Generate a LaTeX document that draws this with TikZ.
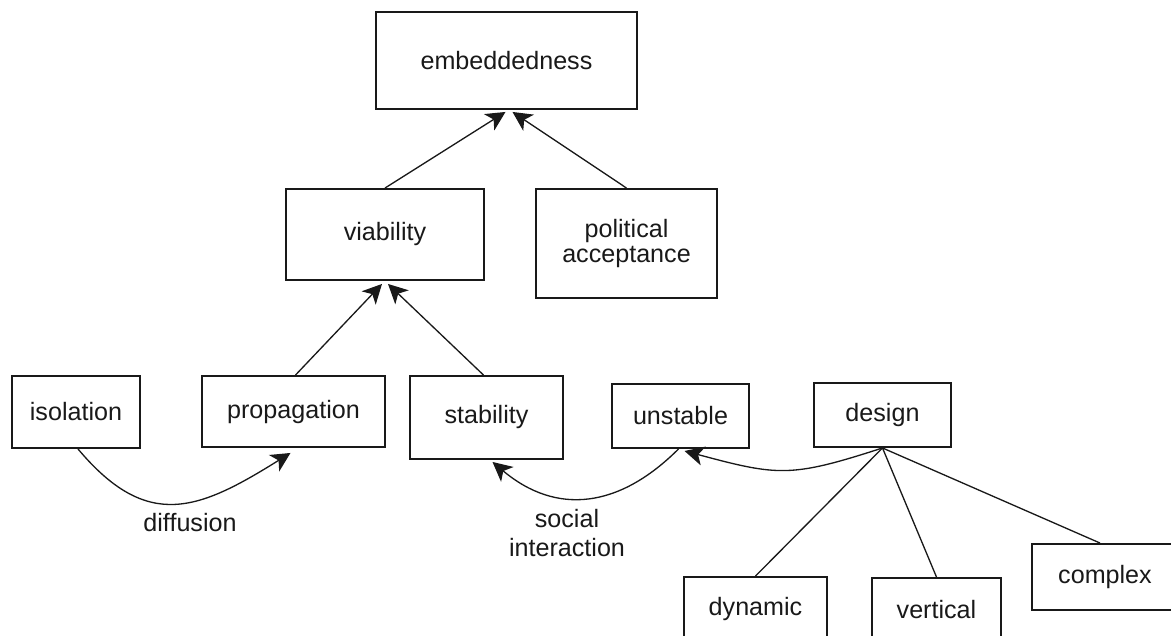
\documentclass[tikz,border=0pt]{standalone}
\usepackage{fontspec}
\setmainfont{Liberation Sans}
\usepackage{tikz}
\usetikzlibrary{
    arrows.meta,
    positioning,
    calc
}
\definecolor{ink}{RGB}{25,25,25}
\tikzset{
  box/.style  = {draw=ink, line width=1.1pt, inner sep=0pt, align=center,
                 text=ink, font=\fontsize{14.3pt}{17pt}\selectfont},
  arr/.style  = {-{Stealth[length=11pt, width=11pt, inset=3pt]}, ink, line width=0.75pt},
  link/.style = {ink, line width=0.75pt},
  lbl/.style  = {text=ink, align=center, inner sep=0pt,
                 font=\fontsize{14.3pt}{16.4pt}\selectfont}
}

\begin{document}
\begin{tikzpicture}[x=0.02cm, y=-0.02cm]
  \useasboundingbox (0,0) rectangle (1171,636);

  % Boxes
  \node[box, minimum width=5.22cm, minimum height=1.94cm] (emb)    at (506.5,60.5) {embeddedness};
  \node[box, minimum width=3.96cm, minimum height=1.82cm] (viab)   at (385,234.5)  {viability};
  \node[box, minimum width=3.62cm, minimum height=2.18cm,
        font=\fontsize{14.3pt}{13.8pt}\selectfont]       (polit)  at (626.5,243.5) {political\\acceptance};
  \node[box, minimum width=2.56cm, minimum height=1.44cm] (isol)   at (76,412)     {isolation};
  \node[box, minimum width=3.66cm, minimum height=1.42cm] (prop)   at (293.5,411.5) {propagation};
  \node[box, minimum width=3.06cm, minimum height=1.66cm] (stab)   at (486.5,417.5) {stability};
  \node[box, minimum width=2.74cm, minimum height=1.28cm] (unst)   at (680.5,416)  {unstable};
  \node[box, minimum width=2.74cm, minimum height=1.28cm] (design) at (882.5,415)  {design};
  \node[box, minimum width=2.86cm, minimum height=1.26cm] (dyn)    at (755.5,608.5) {dynamic};
  \node[box, minimum width=2.58cm, minimum height=1.28cm] (vert)   at (936.5,610)  {vertical};
  \node[box, minimum width=2.92cm, minimum height=1.32cm] (cmplx)  at (1105,577)   {complex};

  % Upward arrows
  \draw[arr] (viab.north)  -- ($(emb.south)+(-1,2)$);
  \draw[arr] (polit.north) -- ($(emb.south)+(6,2)$);
  \draw[arr] ($(prop.north)+(2,0)$) -- ($(viab.south)+(-3,3)$);
  \draw[arr] ($(stab.north)+(-3,0)$) -- ($(viab.south)+(3,3)$);

  % Curved arrows
  \draw[arr] ($(isol.south)+(2,0)$) to[out=-50, in=-148, looseness=1.3]
    ($(prop.south)+(-3,5)$);
  \node[lbl] (diff) at (190,523) {diffusion};
  \draw[arr] ($(unst.south)+(-2,0)$) to[out=-135, in=-40, looseness=1.15]
    ($(stab.south)+(6,2)$);
  \node[lbl] (soc) at (567,533) {social\\interaction};
  \draw[arr] (design.south) to[out=-162, in=-15, looseness=1.25]
    ($(unst.south)+(4,2)$);

  % Design branches
  \draw[link] (design.south) -- (dyn.north);
  \draw[link] (design.south) -- (vert.north);
  \draw[link] (design.south) -- ($(cmplx.north)+(-5,0)$);
\end{tikzpicture}
\end{document}
